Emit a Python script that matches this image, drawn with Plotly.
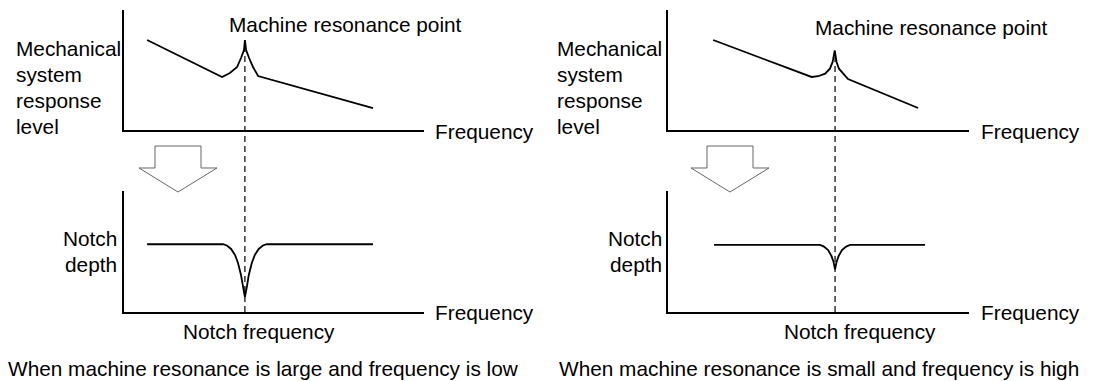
import plotly.graph_objects as go

# --- data (arbitrary 0-100 units per panel) ---
# left column: large resonance, low frequency
left_resp_freq = [7.7, 32.7, 35.3, 37.7, 39.0, 40.0, 40.3, 40.7, 41.7, 43.0, 44.7, 83.0]
left_resp_level = [75.0, 44.2, 47.5, 52.5, 60.0, 66.7, 75.0, 66.7, 60.0, 52.5, 45.0, 18.3]
left_notch_freq = [7.7, 33.0, 34.3, 35.7, 37.0, 38.0, 39.0, 39.7, 40.3,
                   41.0, 41.6, 42.6, 43.6, 44.9, 46.3, 47.6, 83.0]
left_notch_depth = [56.0, 56.0, 55.0, 52.1, 47.1, 40.5, 30.6, 21.5, 12.4,
                    21.5, 30.6, 40.5, 47.1, 52.1, 55.0, 56.0, 56.0]
left_res_freq = 40.3

# right column: small resonance, high frequency
right_resp_freq = [15.0, 47.7, 49.9, 52.2, 53.8, 54.7, 55.4, 56.0, 56.8, 58.2, 59.8, 83.1]
right_resp_level = [75.0, 44.2, 44.8, 46.9, 51.1, 56.7, 66.4, 56.7, 51.1, 46.9, 42.5, 18.3]
right_notch_freq = [15.3, 50.5, 51.8, 53.2, 54.3, 55.0, 55.5, 56.0, 56.7, 57.8, 59.2, 60.5, 85.4]
right_notch_depth = [55.4, 55.4, 54.1, 51.2, 46.3, 41.3, 35.3, 41.3, 46.3, 51.2, 54.1, 55.4, 55.4]
right_res_freq = 55.5

y_label_lines = ["Mechanical", "system", "response", "level"]
notch_label_lines = ["Notch", "depth"]
captions = ["When machine resonance is large and frequency is low",
            "When machine resonance is small and frequency is high"]

W, H = 1093, 381
FONT = dict(family="Arial, 'Liberation Sans', sans-serif", size=20.8, color="black")


def px_x(p):
    return p / W


def px_y(p):
    return 1 - p / H


top_dom = [px_y(130), px_y(10)]
bot_dom = [px_y(312), px_y(191)]
left_dom = [px_x(124), px_x(424)]
right_dom = [px_x(668), px_x(969)]


def axis(domain, anchor):
    return dict(domain=domain, anchor=anchor, range=[0, 100], showline=True,
                linecolor="black", linewidth=1.8, showgrid=False, zeroline=False,
                showticklabels=False, ticks="", fixedrange=True)


fig = go.Figure()
curve = dict(color="black", width=1.8)
fig.add_trace(go.Scatter(x=left_resp_freq, y=left_resp_level, mode="lines", line=curve, xaxis="x", yaxis="y"))
fig.add_trace(go.Scatter(x=right_resp_freq, y=right_resp_level, mode="lines", line=curve, xaxis="x2", yaxis="y2"))
fig.add_trace(go.Scatter(x=left_notch_freq, y=left_notch_depth, mode="lines", line=curve, xaxis="x3", yaxis="y3"))
fig.add_trace(go.Scatter(x=right_notch_freq, y=right_notch_depth, mode="lines", line=curve, xaxis="x4", yaxis="y4"))


def top_paper(level):
    return top_dom[0] + level / 100 * (top_dom[1] - top_dom[0])


shapes = []
# dashed resonance lines running through both panels
for xr, f, top_lvl in [("x", left_res_freq, 66.7), ("x2", right_res_freq, 60.8)]:
    shapes.append(dict(type="line", xref=xr, yref="paper", x0=f, x1=f,
                       y0=bot_dom[0], y1=top_paper(top_lvl),
                       line=dict(color="black", width=1.2, dash="6px,4px")))

# hollow down arrows
for cx in [178, 730]:
    pts = [(cx - 23, 146), (cx + 23, 146), (cx + 23, 168), (cx + 39, 168),
           (cx, 192), (cx - 39, 168), (cx - 23, 168)]
    path = "M " + " L ".join(f"{px_x(a):.5f},{px_y(b):.5f}" for a, b in pts) + " Z"
    shapes.append(dict(type="path", xref="paper", yref="paper", path=path,
                       fillcolor="white", line=dict(color="#666666", width=1)))

annotations = []


def note(text, x, y, xanchor="left"):
    annotations.append(dict(text=text, x=px_x(x), y=px_y(y), xref="paper", yref="paper",
                            xanchor=xanchor, yanchor="middle", showarrow=False, font=FONT))


for off, mrp_x, mrp_y, lab_x, notch_end, nf_x in [
        (0, 227, 25, 14, 119, 259), (546, 813, 28, 555, 664, 860)]:
    note("Machine resonance point", mrp_x, mrp_y)
    for i, line in enumerate(y_label_lines):
        note(line, lab_x, 48 + i * 26)
    for i, line in enumerate(notch_label_lines):
        note(line, notch_end, 238 + i * 26, xanchor="right")
    note("Frequency", 433 + off, 131)
    note("Frequency", 433 + off, 312)
    note("Notch frequency", nf_x, 331, xanchor="center")

note(captions[0], 6, 368)
note(captions[1], 557, 368)

fig.update_layout(
    width=W, height=H, margin=dict(l=0, r=0, t=0, b=0),
    paper_bgcolor="white", plot_bgcolor="white", showlegend=False,
    xaxis=axis(left_dom, "y"), yaxis=axis(top_dom, "x"),
    xaxis2=axis(right_dom, "y2"), yaxis2=axis(top_dom, "x2"),
    xaxis3=axis(left_dom, "y3"), yaxis3=axis(bot_dom, "x3"),
    xaxis4=axis(right_dom, "y4"), yaxis4=axis(bot_dom, "x4"),
    shapes=shapes, annotations=annotations,
)

# page body has a default margin; drop it so the figure fills the window
fig.write_html("out.html", config={"displayModeBar": False},
               post_script="document.body.style.margin = '0';")
